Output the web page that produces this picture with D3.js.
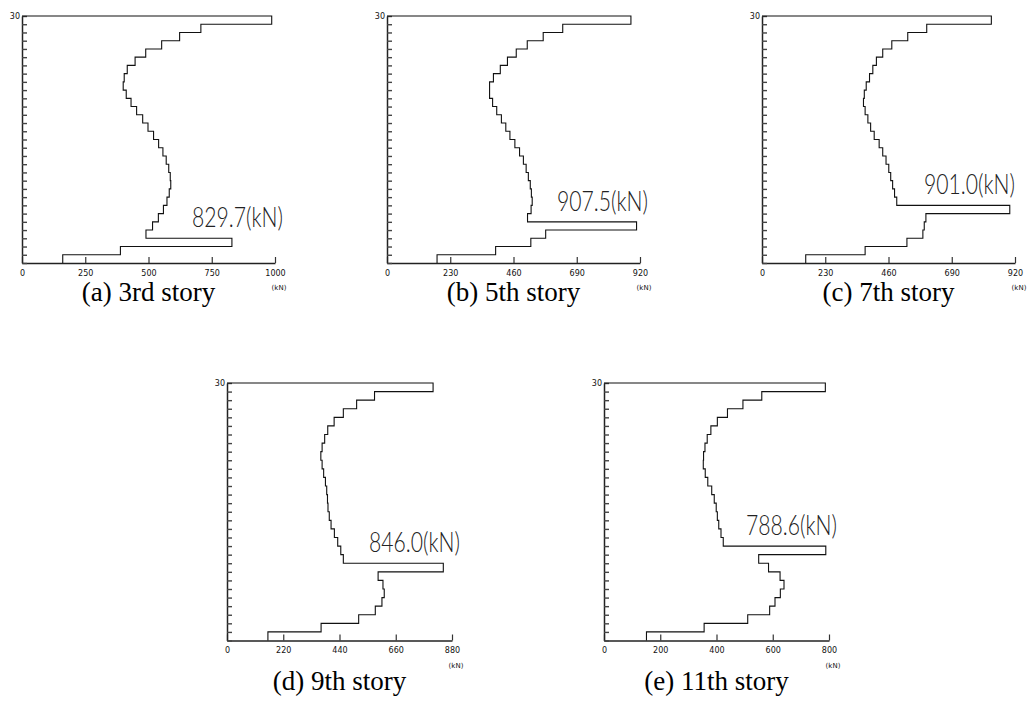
<!DOCTYPE html>
<html>
<head>
<meta charset="utf-8">
<script src="https://cdn.jsdelivr.net/npm/d3@7"></script>
<style>
  html, body { margin: 0; padding: 0; background: #fff; }
  svg { display: block; }
</style>
</head>
<body>
<div id="chart"></div>
<script>
// story shear per floor, story 1 (bottom) .. 30 (top), kN
const stories = d3.range(1, 31);

const shear3 = [161, 389, 829.7, 490, 516, 539, 559, 573, 582, 588, 586, 580, 570, 557, 540,
  520, 498, 477, 453, 431, 412, 400, 404, 416, 447, 489, 552, 623, 707, 987];
const shear5 = [182, 395, 523, 577, 907.5, 511, 524, 528, 525, 521, 514, 506, 496, 482, 465,
  447, 432, 416, 399, 384, 373, 373, 387, 412, 438, 470, 510, 568, 639, 887];
const shear7 = [159, 375, 527, 585, 590, 596, 901.0, 490, 482, 475, 468, 461, 451, 439, 426,
  408, 395, 385, 375, 369, 372, 379, 391, 403, 416, 439, 472, 530, 599, 834];
const shear9 = [160, 368, 515, 580, 606, 615, 610, 591, 846.0, 455, 445, 433, 420, 407, 400,
  395, 393, 390, 385, 378, 372, 367, 372, 382, 394, 419, 455, 507, 577, 806];
const shear11 = [151, 356, 511, 589, 608, 627, 640, 626, 585, 550, 788.6, 424, 416, 408, 403,
  399, 392, 383, 369, 360, 353, 354, 359, 367, 380, 403, 439, 494, 561, 787];

const ticks3 = [0, 250, 500, 750, 1000];
const ticks5 = [0, 230, 460, 690, 920];
const ticks7 = [0, 230, 460, 690, 920];
const ticks9 = [0, 220, 440, 660, 880];
const ticks11 = [0, 200, 400, 600, 800];

const peakStories = [3, 5, 7, 9, 11];
const captions = ["(a) 3rd story", "(b) 5th story", "(c) 7th story", "(d) 9th story", "(e) 11th story"];

const allShear = [shear3, shear5, shear7, shear9, shear11];
const allTicks = [ticks3, ticks5, ticks7, ticks9, ticks11];

// panel placement on the page
const layout = [
  { left: 22,  top: 16,  w: 253, h: 247,   capY: 301 },
  { left: 387, top: 16,  w: 253, h: 247,   capY: 301 },
  { left: 762, top: 16,  w: 253, h: 247,   capY: 301 },
  { left: 227, top: 383, w: 225, h: 257.5, capY: 690 },
  { left: 604, top: 383, w: 225, h: 257.5, capY: 690 }
];

const svg = d3.select("#chart").append("svg")
  .attr("width", 1029)
  .attr("height", 704);

layout.forEach((L, i) => {
  const vals = allShear[i];
  const tv = allTicks[i];
  const g = svg.append("g").attr("transform", "translate(" + L.left + "," + L.top + ")");

  const x = d3.scaleLinear().domain([0, tv[tv.length - 1]]).range([0, L.w]);
  const y = d3.scaleLinear().domain([0, 30]).range([L.h, 0]);

  // x axis: ticks pointing up, labels below
  const xa = g.append("g").attr("transform", "translate(0," + L.h + ")")
    .call(d3.axisBottom(x).tickValues(tv).tickSize(-6).tickSizeOuter(0).tickPadding(7)
      .tickFormat(d3.format("d")));
  xa.select(".domain").attr("stroke", "#222").attr("stroke-width", 1.5);
  xa.selectAll(".tick line").attr("stroke", "#333").attr("stroke-width", 1.2);
  xa.selectAll(".tick text").attr("font-family", "DejaVu Sans").attr("font-size", 8).attr("fill", "#111");
  xa.append("text")
    .attr("x", L.w + 4).attr("y", 27)
    .attr("text-anchor", "middle")
    .attr("font-family", "DejaVu Sans").attr("font-size", 7).attr("fill", "#111")
    .text("(kN)");

  // y axis: one tick per floor level, inside
  const ya = g.append("g")
    .call(d3.axisRight(y).tickValues(d3.range(0, 31)).tickSize(5).tickSizeOuter(0).tickFormat(""));
  ya.select(".domain").attr("stroke", "#222").attr("stroke-width", 1.5);
  ya.selectAll(".tick line").attr("stroke", "#444").attr("stroke-width", 1.4);
  g.append("text")
    .attr("x", -2).attr("y", y(30) + 3)
    .attr("text-anchor", "end")
    .attr("font-family", "DejaVu Sans").attr("font-size", 8).attr("fill", "#111")
    .text("30");

  // step outline of story shear
  const pts = [[0, 30]];
  for (let s = 30; s >= 1; s--) {
    pts.push([vals[s - 1], s]);
    pts.push([vals[s - 1], s - 1]);
  }
  g.append("path")
    .datum(pts)
    .attr("fill", "none")
    .attr("stroke", "#111")
    .attr("stroke-width", 1.1)
    .attr("d", d3.line().x(d => x(d[0])).y(d => y(d[1])));

  // peak value label, squeezed horizontally like the narrow plotter font
  const ps = peakStories[i];
  const lg = g.append("g");
  const lt = lg.append("text")
    .attr("text-anchor", "end")
    .attr("font-family", "Lato, Liberation Sans").attr("font-size", 27).attr("font-weight", 300)
    .attr("fill", "#222")
    .text(d3.format(".1f")(vals[ps - 1]) + "(kN)");
  const sx = 91 / lt.node().getComputedTextLength();
  lg.attr("transform", "translate(" + Math.min(L.w + 8, 1015 - L.left) + "," + (y(ps) - 11) + ") scale(" + sx + ",1)");

  // caption
  svg.append("text")
    .attr("x", L.left + L.w / 2).attr("y", L.capY)
    .attr("text-anchor", "middle")
    .attr("font-family", "Liberation Serif").attr("font-size", 27).attr("fill", "#000")
    .text(captions[i]);
});
</script>
</body>
</html>
